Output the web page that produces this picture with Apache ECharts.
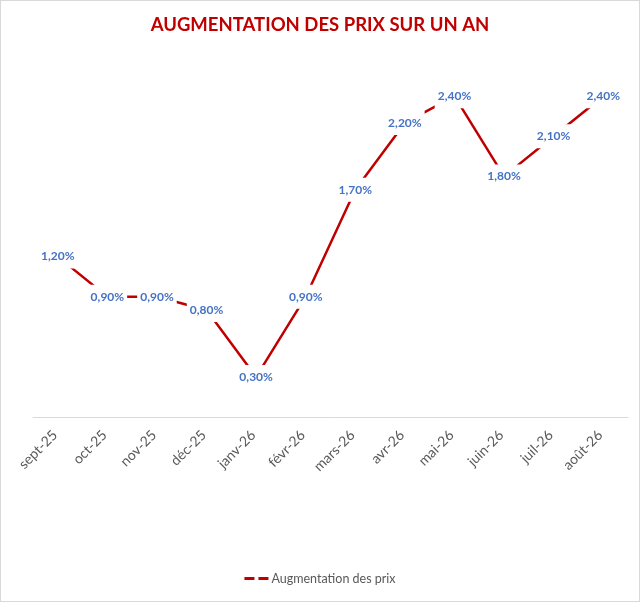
<!DOCTYPE html>
<html>
<head>
<meta charset="utf-8">
<script src="https://cdn.jsdelivr.net/npm/echarts@6/dist/echarts.min.js"></script>
<style>
  html, body { margin: 0; padding: 0; background: #fff; }
  #chart { width: 638px; height: 600px; border: 1px solid #d9d9d9; }
</style>
</head>
<body>
<div id="chart"></div>
<script>
// mois (catégories) et augmentation en %
var months = ['sept-25', 'oct-25', 'nov-25', 'déc-25', 'janv-26', 'févr-26',
              'mars-26', 'avr-26', 'mai-26', 'juin-26', 'juil-26', 'août-26'];
var hausse = [1.2, 0.9, 0.9, 0.8, 0.3, 0.9, 1.7, 2.2, 2.4, 1.8, 2.1, 2.4];
var seriesName = 'Augmentation des prix';

function pct(v) {
    return v.toFixed(2).replace('.', ',') + '%';
}

var chart = echarts.init(document.getElementById('chart'));
chart.setOption({
    animation: false,
    textStyle: { fontFamily: 'Lato' },
    title: {
        text: 'AUGMENTATION DES PRIX SUR UN AN',
        left: 'center',
        top: 10,
        textStyle: { color: '#C00000', fontSize: 18.5, fontWeight: 'bold', fontFamily: 'Lato' }
    },
    legend: {
        bottom: 11,
        left: 'center',
        data: [seriesName],
        icon: 'path://M0,0h10v3h-10z M14,0h10v3h-10z',
        itemWidth: 24,
        itemHeight: 3,
        itemGap: 4,
        textStyle: { color: '#595959', fontSize: 12.5, padding: [0, 0, 0, -2] }
    },
    grid: { left: 32, right: 11, top: 15, bottom: 184, containLabel: false },
    xAxis: {
        type: 'category',
        data: months,
        boundaryGap: true,
        axisLine: { lineStyle: { color: '#d9d9d9', width: 1 } },
        axisTick: { show: false },
        axisLabel: { rotate: 45, color: '#595959', fontSize: 14, margin: 13, interval: 0,
                     padding: [0, 4, 0, 0] }
    },
    yAxis: {
        type: 'value',
        min: 0,
        max: 3,
        show: false,
        splitLine: { show: false }
    },
    series: [{
        name: seriesName,
        type: 'line',
        data: hausse,
        symbol: 'circle',
        symbolSize: 1,
        showSymbol: true,
        lineStyle: { color: '#C00000', width: 2.5 },
        itemStyle: { color: '#C00000' },
        label: {
            show: true,
            position: 'inside',
            color: '#4472C4',
            fontWeight: 'bold',
            fontSize: 12,
            backgroundColor: '#fff',
            padding: [6, 3],
            formatter: function (p) { return pct(p.value); }
        }
    }]
});
</script>
</body>
</html>
